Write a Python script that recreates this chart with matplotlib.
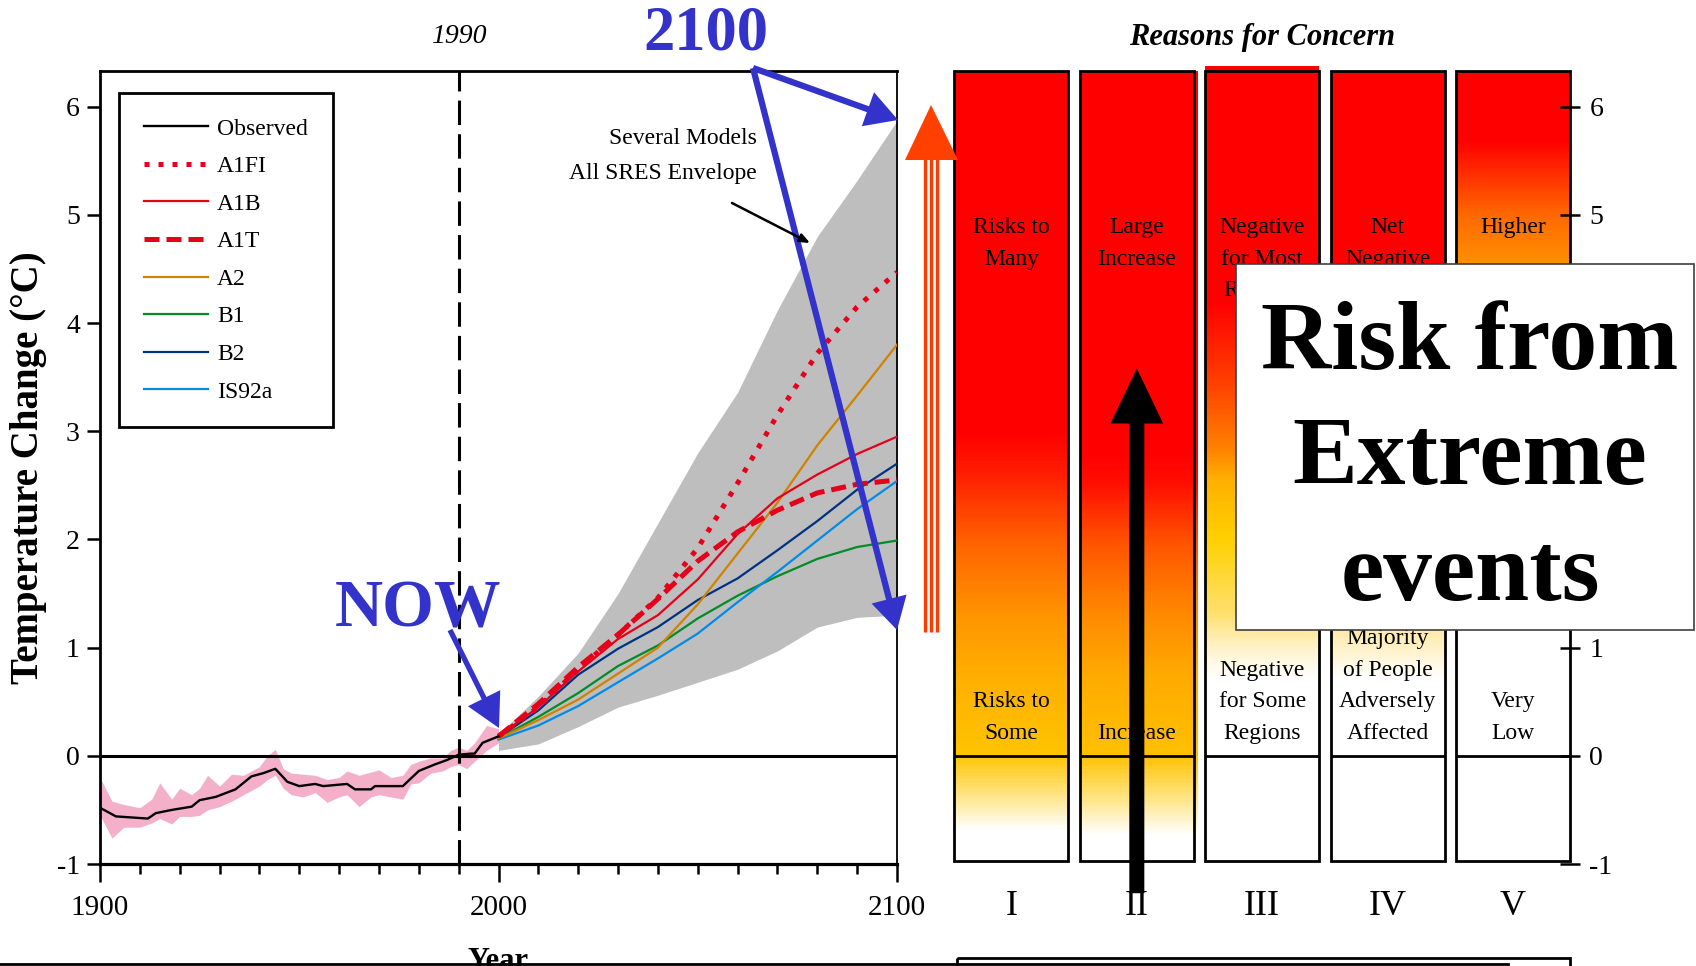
import numpy as np
import matplotlib
matplotlib.use('Agg')
import matplotlib.pyplot as plt
from matplotlib.patches import Rectangle, FancyArrowPatch, ArrowStyle, Polygon
from matplotlib.colors import LinearSegmentedColormap, Normalize
import matplotlib.transforms as mtransforms

plt.rcParams['font.family'] = ['Liberation Serif', 'DejaVu Serif']

# ---------------- data ----------------
obs_years = [1900, 1904, 1912, 1914, 1918, 1923, 1925, 1929, 1934, 1938, 1941, 1944, 1947,
             1950, 1954, 1956, 1962, 1964, 1968, 1969, 1976, 1980, 1984, 1987, 1990, 1993,
             1994, 1996, 2000]
obs_temp = [-0.48, -0.56, -0.58, -0.53, -0.50, -0.47, -0.41, -0.38, -0.31, -0.19, -0.16, -0.12, -0.24,
            -0.28, -0.26, -0.28, -0.26, -0.31, -0.31, -0.28, -0.28, -0.14, -0.08, -0.04, 0.01, 0.02,
            0.02, 0.12, 0.18]

pink_years = [1900, 1903, 1906, 1910, 1913, 1915, 1918, 1920, 1923, 1925, 1927, 1930, 1933,
              1936, 1940, 1942, 1944, 1946, 1948, 1951, 1954, 1957, 1960, 1962, 1965, 1968,
              1970, 1973, 1976, 1978, 1980, 1983, 1986, 1988, 1990, 1992, 1994, 1997, 2000]
pink_hi = [-0.20, -0.42, -0.45, -0.48, -0.40, -0.25, -0.40, -0.30, -0.36, -0.30, -0.18, -0.28, -0.17,
           -0.18, -0.10, 0.00, 0.06, -0.12, -0.16, -0.17, -0.18, -0.22, -0.20, -0.14, -0.18, -0.15,
           -0.13, -0.20, -0.18, -0.08, -0.05, -0.02, -0.02, 0.05, 0.08, 0.05, 0.12, 0.28, 0.25]
pink_lo = [-0.55, -0.76, -0.66, -0.66, -0.62, -0.58, -0.63, -0.56, -0.56, -0.55, -0.50, -0.47, -0.42,
           -0.36, -0.28, -0.22, -0.18, -0.30, -0.36, -0.38, -0.34, -0.43, -0.38, -0.36, -0.47, -0.38,
           -0.36, -0.38, -0.40, -0.26, -0.25, -0.16, -0.14, -0.10, -0.08, -0.12, -0.05, 0.05, 0.12]

proj_years = [2000, 2010, 2020, 2030, 2040, 2050, 2060, 2070, 2080, 2090, 2100]
env_hi = [0.20, 0.55, 0.95, 1.50, 2.15, 2.80, 3.36, 4.12, 4.80, 5.32, 5.87]
env_lo = [0.05, 0.11, 0.27, 0.45, 0.56, 0.68, 0.80, 0.97, 1.19, 1.28, 1.30]
a1fi = [0.18, 0.45, 0.80, 1.12, 1.46, 1.92, 2.52, 3.15, 3.72, 4.15, 4.47]
a1b = [0.18, 0.45, 0.78, 1.08, 1.30, 1.63, 2.05, 2.38, 2.60, 2.79, 2.95]
a1t = [0.18, 0.48, 0.82, 1.12, 1.45, 1.80, 2.07, 2.27, 2.43, 2.51, 2.55]
a2 = [0.16, 0.33, 0.52, 0.76, 1.00, 1.40, 1.87, 2.34, 2.87, 3.33, 3.80]
b1 = [0.16, 0.36, 0.58, 0.83, 1.02, 1.27, 1.48, 1.66, 1.82, 1.93, 1.99]
b2 = [0.17, 0.42, 0.75, 0.99, 1.19, 1.44, 1.64, 1.90, 2.17, 2.46, 2.70]
is92a = [0.15, 0.28, 0.46, 0.68, 0.90, 1.13, 1.42, 1.70, 1.99, 2.28, 2.54]

ytick_vals = [-1, 0, 1, 2, 3, 4, 5, 6]
ytick_labels = ['-1', '0', '1', '2', '3', '4', '5', '6']
# right-hand scale: 2, 3, 4 are hidden behind the "Risk from Extreme events" box
ytick_labels_right = ['-1', '0', '1', '', '', '', '5', '6']
xtick_major = [1900, 2000, 2100]

roman = ['I', 'II', 'III', 'IV', 'V']
top_labels = [['Risks to', 'Many'], ['Large', 'Increase'], ['Negative', 'for Most', 'Regions'],
              ['Net', 'Negative'], ['Higher']]
bottom_labels = [['Risks to', 'Some'], ['Increase'], ['Negative', 'for Some', 'Regions'],
                 ['Majority', 'of People', 'Adversely', 'Affected'], ['Very', 'Low']]

# colour gradients of the five "reasons for concern" columns (value, colour)
col_stops = [
    [(-1.0, '#FFFFFF'), (-0.7, '#FFFFFF'), (-0.35, '#FFE27A'), (0.0, '#FFC400'), (0.7, '#FFB000'),
     (1.3, '#FF9400'), (1.95, '#FF6400'), (2.6, '#FF1E00'), (3.0, '#FF0000'), (6.4, '#FF0000')],
    [(-1.0, '#FFFFFF'), (-0.75, '#FFFFFF'), (-0.35, '#FFE070'), (0.0, '#FFC000'), (0.7, '#FFAC00'),
     (1.3, '#FF8A00'), (1.95, '#FF5500'), (2.5, '#FF1000'), (2.8, '#FF0000'), (6.4, '#FF0000')],
    [(-1.0, '#FFFFFF'), (0.7, '#FFFFFF'), (1.0, '#FFF2C8'), (1.3, '#FFE070'), (2.0, '#FFD000'),
     (2.55, '#FFB000'), (2.85, '#FF8000'), (3.45, '#FF4000'), (4.2, '#FF0000'), (6.4, '#FF0000')],
    [(-1.0, '#FFFFFF'), (0.7, '#FFFFFF'), (1.2, '#FFE8A0'), (2.0, '#FFD000'), (3.0, '#FF8000'),
     (4.4, '#FF0000'), (6.4, '#FF0000')],
    [(-1.0, '#FFFFFF'), (1.5, '#FFFFFF'), (2.5, '#FFE8A0'), (3.5, '#FFC000'), (4.6, '#FF8C00'),
     (5.0, '#FF6A00'), (5.7, '#FF0000'), (6.4, '#FF0000')],
]

# ---------------- figure ----------------
W, H = 1696, 966
fig = plt.figure(figsize=(W / 100, H / 100), dpi=100)
fig.patch.set_facecolor('white')


def fx(px):
    return px / W


def fy(py):
    return 1 - py / H


YMIN, YMAX = -1, 6.33
BLUE = '#3333CC'

# ---- left panel ----
ax = fig.add_axes([fx(100), fy(864), (897 - 100) / W, (864 - 71) / H])
ax.set_xlim(1900, 2100)
ax.set_ylim(YMIN, YMAX)

ax.fill_between(pink_years, pink_lo, pink_hi, color='#F4B0C8', lw=0, zorder=1)
ax.fill_between(proj_years, env_lo, env_hi, color='#BEBEBE', lw=0, zorder=1)
ax.axhline(0, color='black', lw=2.2, zorder=2)

h_obs, = ax.plot(obs_years, obs_temp, color='black', lw=1.7, zorder=4, label='Observed')
h_b1, = ax.plot(proj_years, b1, color='#008C28', lw=1.6, zorder=3, label='B1')
h_is, = ax.plot(proj_years, is92a, color='#008CE6', lw=1.6, zorder=3, label='IS92a')
h_b2, = ax.plot(proj_years, b2, color='#003282', lw=1.6, zorder=3, label='B2')
h_a2, = ax.plot(proj_years, a2, color='#D08200', lw=1.6, zorder=3, label='A2')
h_a1b, = ax.plot(proj_years, a1b, color='#E6001A', lw=1.6, zorder=3, label='A1B')
h_a1t, = ax.plot(proj_years, a1t, color='#E6001A', lw=3.6, dashes=(3, 1.4), zorder=3, label='A1T')
h_a1fi, = ax.plot(proj_years, a1fi, color='#E6001A', lw=3.6, dashes=(1, 1.8), zorder=3, label='A1FI')

ax.axvline(1990, color='black', lw=2.2, dashes=(8, 3), zorder=5)

leg = ax.legend(handles=[h_obs, h_a1fi, h_a1b, h_a1t, h_a2, h_b1, h_b2, h_is],
                loc='upper left', bbox_to_anchor=(0.024, 0.972), borderaxespad=0,
                fontsize=17, frameon=True, fancybox=False, framealpha=1,
                edgecolor='black', handlelength=2.7, handletextpad=0.4,
                labelspacing=0.68, borderpad=1.05)
leg.get_frame().set_linewidth(2)
leg.set_zorder(6)

for s in ['left', 'top']:
    ax.spines[s].set_linewidth(2)
ax.spines['bottom'].set_linewidth(2.3)
ax.spines['right'].set_linewidth(1.3)

ax.set_yticks(ytick_vals)
ax.set_yticklabels(ytick_labels)
ax.set_xticks(xtick_major)
ax.set_xticklabels([str(v) for v in xtick_major])
ax.set_xticks(np.arange(1900, 2101, 10), minor=True)
ax.tick_params(axis='y', direction='out', length=9.5, width=1.8, pad=5, labelsize=20)
ax.tick_params(axis='x', which='major', direction='out', length=13, width=1.8, pad=9, labelsize=21)
ax.tick_params(axis='x', which='minor', direction='out', length=7.5, width=1.8)

ax.set_ylabel('Temperature Change (°C)', fontsize=28, fontweight='bold')
ax.yaxis.set_label_coords(-0.09, 0.5)
ax.yaxis.label.set_va('center')
ax.set_xlabel('Year', fontsize=22, fontweight='bold')
ax.xaxis.set_label_coords(0.5, -0.105)
ax.xaxis.label.set_va('top')

tr = mtransforms.blended_transform_factory(ax.transData, ax.transAxes)
ax.text(1990, 1.044, '1990', transform=tr, ha='center', va='center', fontsize=20, fontstyle='italic')

# ---- right panel ----
ax2 = fig.add_axes([fx(954.4), fy(864), (1570 - 954.4) / W, (864 - 71) / H])
ax2.set_facecolor('none')
grad = np.linspace(-1, 6.4, 600).reshape(-1, 1)
norm = Normalize(-1, 6.4)
col_w = 0.91
bar_bottom = -0.97
for i, stops in enumerate(col_stops):
    cmap = LinearSegmentedColormap.from_list(
        'c%d' % i, [((v + 1) / 7.4, c) for v, c in stops])
    ax2.imshow(grad, extent=[i, i + col_w, -1, 6.4], origin='lower', aspect='auto',
               cmap=cmap, norm=norm, zorder=1, interpolation='bilinear')
    if i == 1:
        ax2.imshow(grad, extent=[i + col_w - 0.01, i + col_w + 0.025, -1, 6.4], origin='lower',
                   aspect='auto', cmap=cmap, norm=norm, zorder=1,
                   clip_path=Rectangle((i + col_w - 0.01, 0), 0.035, 2.67, transform=ax2.transData))
    ax2.add_patch(Rectangle((i, bar_bottom), col_w, YMAX - bar_bottom, fill=False,
                            edgecolor='black', lw=2, zorder=3, clip_on=False))
    ax2.plot([i, i + col_w], [0, 0], color='black', lw=2, zorder=3, solid_capstyle='butt')
    cx = i + col_w / 2
    for k, t in enumerate(top_labels[i]):
        ax2.text(cx, 4.88 - 0.29 * k, t, ha='center', va='center', fontsize=17, zorder=4)
    nb = len(bottom_labels[i])
    for k, t in enumerate(bottom_labels[i]):
        ax2.text(cx, 0.21 + 0.29 * (nb - 1 - k), t, ha='center', va='center', fontsize=17, zorder=4)

# red sliver on top of column III
ax2.add_patch(Rectangle((2, YMAX), col_w, 0.05, color='#FF0000', lw=0, clip_on=False, zorder=2))

ax2.set_xlim(0, 4 + col_w)
ax2.set_ylim(YMIN, YMAX)
for s in ax2.spines.values():
    s.set_visible(False)
ax2.yaxis.tick_right()
ax2.set_yticks(ytick_vals)
ax2.set_yticklabels(ytick_labels_right)
ax2.tick_params(axis='y', direction='inout', length=14, width=1.8, pad=7, labelsize=20)
ax2.set_xticks([i + col_w / 2 for i in range(5)])
ax2.set_xticklabels(roman)
ax2.tick_params(axis='x', length=0, pad=19, labelsize=26)
ax2.set_title('Reasons for Concern', fontsize=22, fontstyle='italic', fontweight='bold', pad=19)

# black up-arrow inside column II
ax2.add_patch(FancyArrowPatch((1 + col_w / 2, -1.27), (1 + col_w / 2, 3.58),
                              arrowstyle=ArrowStyle.Simple(head_length=39.6, head_width=38, tail_width=10.8),
                              mutation_scale=1, color='black', lw=0, clip_on=False, zorder=5,
                              shrinkA=0, shrinkB=0))

# ---- overlay (annotations in pixel space) ----
ov = fig.add_axes([0, 0, 1, 1], zorder=10)
ov.set_xlim(0, W)
ov.set_ylim(H, 0)
ov.axis('off')
ov.patch.set_alpha(0)


def block_arrow(p0, p1, color, hl, hw, tw):
    ov.add_patch(FancyArrowPatch(p0, p1, arrowstyle=ArrowStyle.Simple(head_length=hl, head_width=hw, tail_width=tw),
                                 mutation_scale=1, color=color, lw=0, shrinkA=0, shrinkB=0))


# envelope annotation
ov.text(757, 138, 'Several Models', ha='right', va='center', fontsize=17)
ov.text(757, 174, 'All SRES Envelope', ha='right', va='center', fontsize=17)
ov.annotate('', xy=(810, 243), xytext=(732, 203),
            arrowprops=dict(arrowstyle='-|>,head_length=0.6,head_width=0.25', lw=1.8, color='black',
                            shrinkA=0, shrinkB=0))

# blue annotations
ov.text(706, 34, '2100', ha='center', va='center', fontsize=45, fontweight='bold', color=BLUE)
block_arrow((753, 68), (898, 120), BLUE, 23, 26, 4.5)
block_arrow((753, 68), (897, 630), BLUE, 23, 26, 4.5)
ov.text(418, 610, 'NOW', ha='center', va='center', fontsize=48, fontweight='bold', color=BLUE)
block_arrow((450, 630), (499, 728), BLUE, 24, 26, 3.8)

# orange-red up arrow between panels
ov.add_patch(Polygon([(905, 160), (958, 160), (931, 105)], closed=True, color='#FF4000', lw=0))
for xs in (924.5, 930.8, 937.2):
    ov.plot([xs, xs], [159, 632], color='#FF3C00', lw=2.4, solid_capstyle='butt')

# "Risk from Extreme events" box
ov.add_patch(Rectangle((1236, 264), 1694 - 1236, 630 - 264, facecolor='white',
                       edgecolor='#404040', lw=1.2))
ov.text(1470, 600, 'Risk from\nExtreme\nevents', ha='center', va='baseline',
        multialignment='center', linespacing=1.39, fontsize=70, fontweight='bold')

# cut-off slide elements at the bottom
ov.plot([0, 1508], [964, 964], color='black', lw=2)
ov.add_patch(Rectangle((957, 958), 1570 - 957, 20, fill=False, edgecolor='black', lw=2))

fig.savefig('out.png', dpi=100, facecolor='white')
